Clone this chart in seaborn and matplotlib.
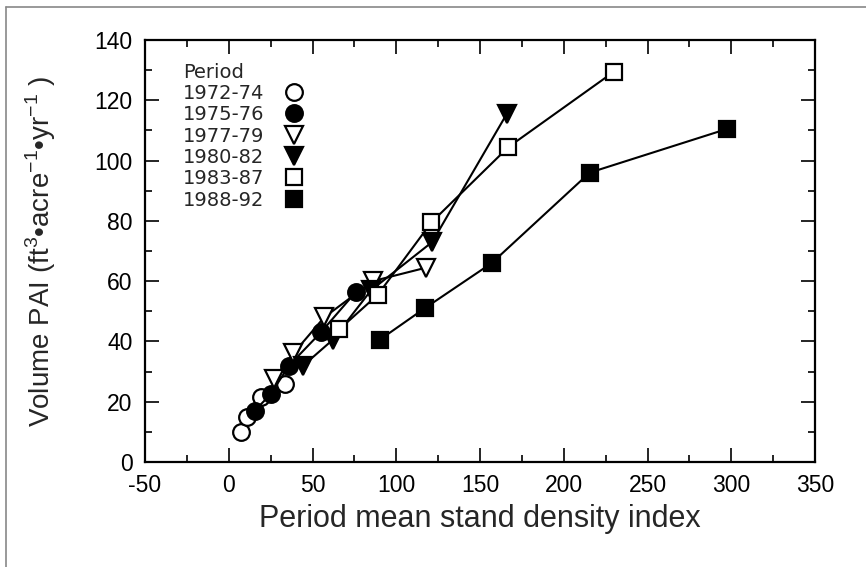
import matplotlib
matplotlib.use("Agg")
import matplotlib.pyplot as plt
from matplotlib.lines import Line2D
from matplotlib.ticker import MultipleLocator
import seaborn as sns
import pandas as pd

# ---- data ----
periods = ["1972-74", "1975-76", "1977-79", "1980-82", "1983-87", "1988-92"]
sdi_7274 = [7.5, 11, 19.5, 33.5]
pai_7274 = [10, 15, 21.5, 26]
sdi_7576 = [15.5, 25, 36, 55, 76]
pai_7576 = [17, 22.5, 32, 43, 56.5]
sdi_7779 = [27, 38.5, 57, 86, 118]
pai_7779 = [27.5, 36, 48, 60, 64.5]
sdi_8082 = [44.5, 62, 85, 121.5, 166]
pai_8082 = [32, 40.5, 57, 73, 115.5]
sdi_8387 = [66, 89, 121, 167, 230]
pai_8387 = [44, 55.5, 79.5, 104.5, 129.5]
sdi_8892 = [90, 117, 157, 215.5, 297.5]
pai_8892 = [40.5, 51, 66, 96, 110.5]

xticks = [-50, 0, 50, 100, 150, 200, 250, 300, 350]
yticks = [0, 20, 40, 60, 80, 100, 120, 140]

series = {
    "1972-74": (sdi_7274, pai_7274),
    "1975-76": (sdi_7576, pai_7576),
    "1977-79": (sdi_7779, pai_7779),
    "1980-82": (sdi_8082, pai_8082),
    "1983-87": (sdi_8387, pai_8387),
    "1988-92": (sdi_8892, pai_8892),
}
styles = {
    "1972-74": ("o", "white", 12),
    "1975-76": ("o", "black", 12),
    "1977-79": ("v", "white", 12.5),
    "1980-82": ("v", "black", 12.5),
    "1983-87": ("s", "white", 11),
    "1988-92": ("s", "black", 11),
}

sns.set_theme(style="ticks")
plt.rcParams["font.family"] = ["Liberation Sans", "DejaVu Sans"]
plt.rcParams["mathtext.fontset"] = "custom"
plt.rcParams["mathtext.rm"] = "Liberation Sans"
plt.rcParams["axes.unicode_minus"] = False

fig = plt.figure(figsize=(8.66, 5.67), dpi=100)
ax = fig.add_axes([145 / 866, 1 - 462 / 567, (815 - 145) / 866, (462 - 40) / 567])

for p in periods:
    xs, ys = series[p]
    m, fc, ms = styles[p]
    df = pd.DataFrame({"sdi": xs, "pai": ys})
    sns.lineplot(data=df, x="sdi", y="pai", ax=ax, color="black", lw=1.5,
                 marker=m, ms=ms, mfc=fc, mec="black", mew=1.6, zorder=3)

ax.set_xlim(-50, 350)
ax.set_ylim(0, 140)
ax.set_xticks(xticks)
ax.set_yticks(yticks)
ax.xaxis.set_minor_locator(MultipleLocator(25))
ax.yaxis.set_minor_locator(MultipleLocator(10))
ax.tick_params(which="both", direction="in", top=True, right=True, width=1.2, colors="black")
ax.tick_params(which="major", length=10, labelsize=16.5, pad=9)
ax.tick_params(which="minor", length=5)
for s in ax.spines.values():
    s.set_linewidth(1.6)
    s.set_color("black")

ax.set_xlabel("Period mean stand density index", fontsize=22, labelpad=5)
ax.set_ylabel("Volume PAI (ft$^{\\mathregular{3}}$\u2022acre$^{\\mathregular{-1}}$\u2022yr$^{\\mathregular{-1}}$ )",
              fontsize=20, labelpad=26)

handles = []
for p in periods:
    m, fc, ms = styles[p]
    handles.append(Line2D([], [], ls="none", marker=m, ms=ms, mfc=fc, mec="black", mew=1.6))
leg = ax.legend(handles, periods, title="Period", loc="upper left", frameon=False,
                markerfirst=False, prop={"family": "DejaVu Sans", "size": 14},
                title_fontproperties={"family": "DejaVu Sans", "size": 14},
                handletextpad=0.5, labelspacing=0.12, borderaxespad=0.0,
                bbox_to_anchor=(0.045, 0.965))
leg._legend_box.align = "left"

# outer frame lines (left and top)
fig.add_artist(Line2D([6 / 866, 6 / 866], [0, 1 - 7 / 567], color="#888888", lw=1.2,
                      transform=fig.transFigure))
fig.add_artist(Line2D([6 / 866, 1], [1 - 7 / 567, 1 - 7 / 567], color="#888888", lw=1.2,
                      transform=fig.transFigure))

fig.savefig("out.png", dpi=100, facecolor="white")
